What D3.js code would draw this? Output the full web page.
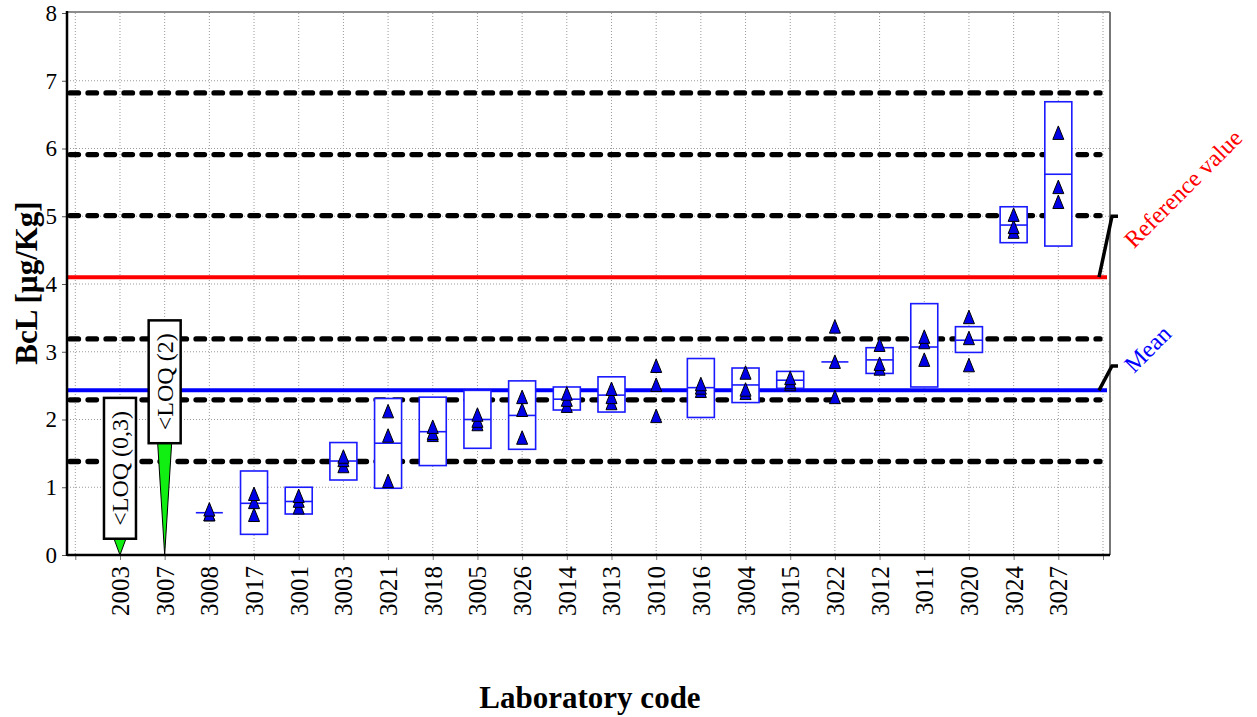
<!DOCTYPE html>
<html>
<head>
<meta charset="utf-8">
<script src="https://cdn.jsdelivr.net/npm/d3@7"></script>
<style>
  html, body { margin: 0; padding: 0; background: #fff; }
  svg { display: block; }
  text { font-family: "Liberation Serif", "Times New Roman", serif; }
</style>
</head>
<body>
<svg id="chart" width="1257" height="717"></svg>
<script>
// ---------------- data ----------------
const labCodes = ["2003","3007","3008","3017","3001","3003","3021","3018","3005","3026","3014",
                  "3013","3010","3016","3004","3015","3022","3012","3011","3020","3024","3027"];

// labs reported below LOQ
const loqLabs   = ["2003", "3007"];
const loqLabels = ["<LOQ (0,3)", "<LOQ (2)"];
const loqBoxBase = [0.24, 1.65];   // value at which the label box sits

// labs with quantitative results
const resultLabs = ["3008","3017","3001","3003","3021","3018","3005","3026","3014","3013",
                    "3010","3016","3004","3015","3022","3012","3011","3020","3024","3027"];
const replicate1 = [0.67, 0.90, 0.87, 1.45, 2.12, 1.89, 2.07, 2.33, 2.38, 2.45,
                    2.79, 2.52, 2.69, 2.61, 3.37, 3.10, 3.22, 3.51, 5.02, 6.23];
const replicate2 = [0.60, 0.78, 0.80, 1.40, 1.76, 1.80, 1.98, 2.14, 2.29, 2.33,
                    2.51, 2.47, 2.44, 2.55, 2.85, 2.82, 3.14, 3.20, 4.84, 5.43];
const replicate3 = [0.60, 0.59, 0.70, 1.31, 1.09, 1.77, 1.93, 1.73, 2.20, 2.24,
                    2.05, 2.42, 2.39, 2.52, 2.33, 2.75, 2.88, 2.80, 4.77, 5.21];
const boxMid  = [0.624, 0.763, 0.79, 1.387, 1.65, 1.82, 2.00, 2.06, 2.30, 2.36,
                 null, 2.47, 2.51, 2.58, 2.85, 2.88, 3.07, 3.17, 4.87, 5.62];
const boxLow  = [null, 0.305, 0.605, 1.107, 0.985, 1.32, 1.575, 1.56, 2.14, 2.11,
                 null, 2.03, 2.25, 2.46, null, 2.68, 2.48, 2.99, 4.61, 4.56];
const boxHigh = [null, 1.24, 1.00, 1.66, 2.31, 2.33, 2.43, 2.57, 2.48, 2.63,
                 null, 2.90, 2.76, 2.71, null, 3.06, 3.71, 3.37, 5.14, 6.69];

const referenceValue = 4.1;
const meanValue = 2.43;
const zLimits = [1.38, 2.29, 3.19, 5.01, 5.91, 6.82];
const refLabelAt = 5.0;
const meanLabelAt = 2.79;
const yTicks = [0, 1, 2, 3, 4, 5, 6, 7, 8];

const yTitle = "BcL [µg/Kg]";
const xTitle = "Laboratory code";

// ---------------- layout ----------------
const svg = d3.select("#chart");
const plotL = 67, plotR = 1110, plotT = 13, plotB = 555;

const x = d3.scaleLinear().domain([-1, labCodes.length]).range([75.3, 1103]);
const y = d3.scaleLinear().domain([0, 8]).range([plotB, plotT]);
const xi = code => x(labCodes.indexOf(code));

// grid
const gridIdx = d3.range(-1, labCodes.length + 1);
svg.append("g").selectAll("line").data(gridIdx).join("line")
  .attr("x1", d => x(d)).attr("x2", d => x(d))
  .attr("y1", plotT).attr("y2", plotB)
  .attr("stroke", "#9a9a9a").attr("stroke-width", 1).attr("stroke-dasharray", "1,2");
svg.append("g").selectAll("line").data(yTicks.filter(v => v > 0 && v < 8)).join("line")
  .attr("x1", plotL).attr("x2", plotR)
  .attr("y1", d => y(d)).attr("y2", d => y(d))
  .attr("stroke", "#9a9a9a").attr("stroke-width", 1).attr("stroke-dasharray", "1,2");

// frame top/right
svg.append("line").attr("x1", plotL).attr("x2", plotR).attr("y1", plotT - 1).attr("y2", plotT - 1)
  .attr("stroke", "#666").attr("stroke-width", 1.5);
svg.append("line").attr("x1", plotR).attr("x2", plotR).attr("y1", plotT - 1).attr("y2", plotB)
  .attr("stroke", "#777").attr("stroke-width", 2);

// z-score dashed limits
svg.append("g").selectAll("line").data(zLimits).join("line")
  .attr("x1", plotL + 3).attr("x2", x(labCodes.length) - 3)
  .attr("y1", d => y(d)).attr("y2", d => y(d))
  .attr("stroke", "#000").attr("stroke-width", 5.3)
  .attr("stroke-linecap", "round").attr("stroke-dasharray", "8.5,9.5");

// reference and mean lines
svg.append("line").attr("x1", plotL).attr("x2", 1107)
  .attr("y1", y(referenceValue)).attr("y2", y(referenceValue))
  .attr("stroke", "#ff0000").attr("stroke-width", 4);
svg.append("line").attr("x1", plotL).attr("x2", 1107)
  .attr("y1", y(meanValue)).attr("y2", y(meanValue))
  .attr("stroke", "#0000ff").attr("stroke-width", 4);

// connectors + labels
function connector(v, at) {
  svg.append("path")
    .attr("d", `M1099,${y(v)} L1112,${y(at)} L1118,${y(at)}`)
    .attr("fill", "none").attr("stroke", "#000").attr("stroke-width", 3.5)
    .attr("stroke-linejoin", "miter");
}
connector(referenceValue, refLabelAt);
connector(meanValue, meanLabelAt);
svg.append("text").attr("transform", `translate(1134,${y(refLabelAt) + 33}) rotate(-45)`)
  .attr("fill", "#ff0000").attr("font-size", 24).text("Reference value");
svg.append("text").attr("transform", `translate(1134,${y(meanLabelAt) + 8}) rotate(-45)`)
  .attr("fill", "#0000ff").attr("font-size", 24).text("Mean");

// boxes
const bw = 27;
const res = resultLabs.map((c, i) => ({c, i}));
svg.append("g").selectAll("rect").data(res.filter(d => boxLow[d.i] != null)).join("rect")
  .attr("x", d => xi(d.c) - bw / 2).attr("width", bw)
  .attr("y", d => y(boxHigh[d.i])).attr("height", d => y(boxLow[d.i]) - y(boxHigh[d.i]))
  .attr("fill", "#fff")
  .attr("stroke", "#1a1aff").attr("stroke-width", 1.6);
svg.append("g").selectAll("line").data(res.filter(d => boxMid[d.i] != null)).join("line")
  .attr("x1", d => xi(d.c) - bw / 2).attr("x2", d => xi(d.c) + bw / 2)
  .attr("y1", d => y(boxMid[d.i])).attr("y2", d => y(boxMid[d.i]))
  .attr("stroke", "#1a1aff").attr("stroke-width", 1.6);

// replicate triangles
const tri = "M0,-8 L5.5,5.5 L-5.5,5.5 Z";
const pts = [];
resultLabs.forEach((c, i) => {
  [replicate3[i], replicate2[i], replicate1[i]].forEach(v => pts.push({c, v}));
});
svg.append("g").selectAll("path").data(pts).join("path")
  .attr("d", tri)
  .attr("transform", d => `translate(${xi(d.c)},${y(d.v) + 1})`)
  .attr("fill", "#0000e6").attr("stroke", "#000").attr("stroke-width", 1);

// LOQ annotations
const loqW = 32, loqFont = 24;
loqLabs.forEach((c, i) => {
  const cx = xi(c);
  const yb = y(loqBoxBase[i]);
  const tmp = svg.append("text").attr("font-size", loqFont).text(loqLabels[i]);
  const len = tmp.node().getComputedTextLength();
  tmp.remove();
  const h = len + 26;
  const tw = i === 0 ? 6 : 7;
  svg.append("path")
    .attr("d", `M${cx - tw},${yb} L${cx + tw},${yb} L${cx},${y(0)} Z`)
    .attr("fill", "#11ee11").attr("stroke", "#000").attr("stroke-width", 1);
  svg.append("rect").attr("x", cx - loqW / 2).attr("y", yb - h).attr("width", loqW).attr("height", h)
    .attr("fill", "#fff").attr("stroke", "#000").attr("stroke-width", 2.5);
  svg.append("text")
    .attr("transform", `translate(${cx + 8},${yb - h / 2}) rotate(-90)`)
    .attr("text-anchor", "middle").attr("font-size", loqFont).attr("fill", "#000")
    .text(loqLabels[i]);
});

// axes
const yAxis = d3.axisLeft(y).tickValues(yTicks).tickSize(5).tickPadding(5).tickFormat(d3.format("d"));
const gy = svg.append("g").attr("transform", `translate(${plotL},0)`).call(yAxis);
gy.select(".domain").remove();
gy.selectAll(".tick line").attr("stroke", "#555");
gy.selectAll(".tick text").attr("font-size", 23).attr("font-family", "Liberation Serif").attr("fill", "#000");

const xAxis = d3.axisBottom(x).tickValues(gridIdx).tickSize(5)
  .tickFormat(i => (i >= 0 && i < labCodes.length) ? labCodes[i] : "");
const gx = svg.append("g").attr("transform", `translate(0,${plotB})`).call(xAxis);
gx.select(".domain").remove();
gx.selectAll(".tick line").attr("stroke", "#777");
gx.selectAll(".tick text")
  .attr("font-size", 25).attr("font-family", "Liberation Serif").attr("fill", "#000")
  .attr("text-anchor", "end").attr("dy", null)
  .attr("transform", "rotate(-90)")
  .attr("x", -11).attr("y", 0).attr("dominant-baseline", "central");

svg.append("line").attr("x1", plotL).attr("x2", plotL).attr("y1", plotT - 2).attr("y2", plotB + 1)
  .attr("stroke", "#000").attr("stroke-width", 2.5);
svg.append("line").attr("x1", plotL).attr("x2", plotR).attr("y1", plotB).attr("y2", plotB)
  .attr("stroke", "#000").attr("stroke-width", 2.5);

// titles
svg.append("text").attr("transform", `translate(37,${(plotT + plotB) / 2 - 1}) rotate(-90)`)
  .attr("text-anchor", "middle").attr("font-size", 31).attr("font-weight", "bold").text(yTitle);
svg.append("text").attr("x", 590).attr("y", 708)
  .attr("text-anchor", "middle").attr("font-size", 31).attr("font-weight", "bold").text(xTitle);
</script>
</body>
</html>
